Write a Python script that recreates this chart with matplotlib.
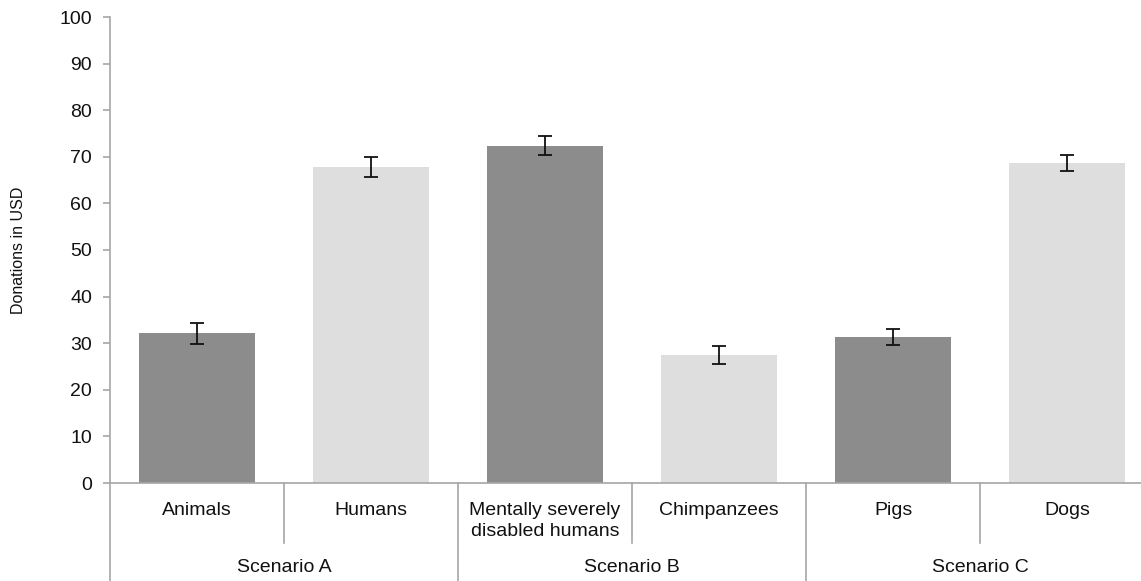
import matplotlib.pyplot as plt
import matplotlib.transforms as mtransforms

plt.rcParams['font.family'] = ['Liberation Sans', 'DejaVu Sans']

# data
categories = ['Animals', 'Humans', 'Mentally severely\ndisabled humans', 'Chimpanzees', 'Pigs', 'Dogs']
scenarios = ['Scenario A', 'Scenario B', 'Scenario C']
donations = [32.1, 67.8, 72.4, 27.5, 31.4, 68.6]
errors = [2.2, 2.1, 2.0, 2.0, 1.7, 1.7]
bar_colors = ['#8c8c8c', '#dedede', '#8c8c8c', '#dedede', '#8c8c8c', '#dedede']

W, H = 1141, 581
fig = plt.figure(figsize=(W / 100, H / 100), dpi=100)
ax = fig.add_axes([110 / W, 98 / H, 1044 / W, 466 / H])

x = list(range(len(categories)))
ax.bar(x, donations, width=0.667, color=bar_colors, edgecolor='none', zorder=2)
ax.errorbar(x, donations, yerr=errors, fmt='none', ecolor='#111111',
            elinewidth=1.3, capsize=5, capthick=1.3, zorder=3)

ax.set_xlim(-0.5, len(categories) - 0.5)
ax.set_ylim(0, 100)
ax.set_yticks(range(0, 101, 10))
ax.set_xticks([])

axis_grey = '#a6a6a6'
for s in ['top', 'right']:
    ax.spines[s].set_visible(False)
for s in ['left', 'bottom']:
    ax.spines[s].set_color(axis_grey)
    ax.spines[s].set_linewidth(1.2)
ax.tick_params(axis='y', length=5, width=1.2, color=axis_grey, pad=8,
               labelsize=14, labelcolor='#111111')

ax.set_ylabel('Donations in USD', fontsize=11.5, color='#111111', labelpad=24)

# grouped category axis below the plot
trans = mtransforms.blended_transform_factory(ax.transData, ax.transAxes)
for i in range(len(categories) + 1):
    xs = i - 0.5
    depth = -0.21 if i % 2 == 0 else -0.129
    ax.plot([xs, xs], [0, depth], color=axis_grey, lw=1.2, transform=trans,
            clip_on=False)

for i, lab in enumerate(categories):
    yy = -0.081 if '\n' in lab else -0.058
    ax.text(i, yy, lab, transform=trans, ha='center', va='center', fontsize=14,
            color='#111111', linespacing=1.3)

for j, sc in enumerate(scenarios):
    ax.text(2 * j + 0.5, -0.182, sc, transform=trans, ha='center', va='center',
            fontsize=14, color='#111111')

fig.savefig('out.png', dpi=100)
